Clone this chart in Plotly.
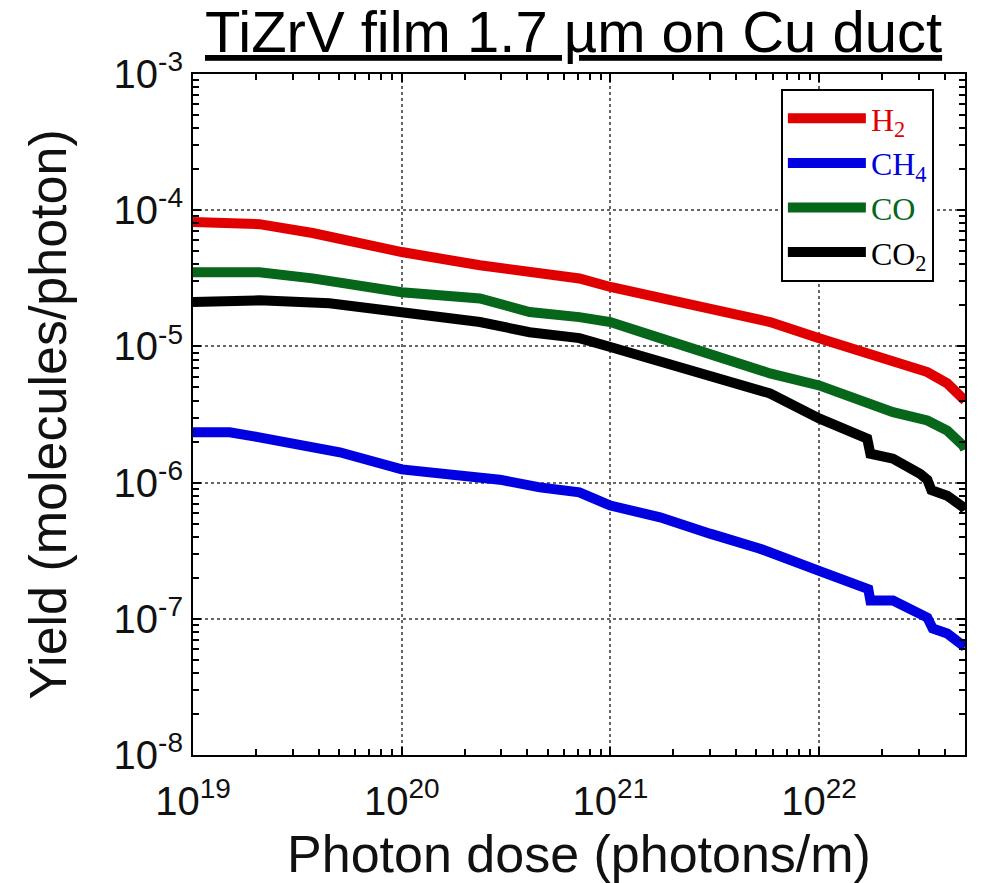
import plotly.graph_objects as go
import math

# ---- data ----
h2_dose = [1.0e19, 2.08e19, 3.74e19, 7.86e19, 1.0e20, 2.37e20, 4.1e20, 7.1e20, 1.0e21, 1.73e21,
           3.0e21, 5.82e21, 1.0e22, 1.57e22, 2.26e22, 3.30e22, 4.11e22, 4.9e22, 5.0e22]
h2_yield = [8.2e-5, 7.9e-5, 6.8e-5, 5.22e-5, 4.93e-5, 3.94e-5, 3.52e-5, 3.15e-5, 2.73e-5, 2.30e-5,
            1.90e-5, 1.51e-5, 1.15e-5, 9.35e-6, 7.67e-6, 6.48e-6, 5.35e-6, 4.24e-6, 4.0e-6]

ch4_dose = [1.0e19, 1.5e19, 2.08e19, 3.24e19, 5.05e19, 1.0e20, 1.7e20, 2.95e20, 4.59e20, 7.1e20,
            1.0e21, 1.73e21, 3.0e21, 5.21e21, 1.0e22, 1.57e22, 1.72e22, 1.76e22, 2.26e22, 3.3e22,
            3.5e22, 4.11e22, 4.73e22, 5.0e22]
ch4_yield = [2.34e-6, 2.34e-6, 2.15e-6, 1.87e-6, 1.67e-6, 1.25e-6, 1.16e-6, 1.05e-6, 9.23e-7, 8.49e-7,
             6.78e-7, 5.56e-7, 4.22e-7, 3.27e-7, 2.25e-7, 1.75e-7, 1.65e-7, 1.36e-7, 1.36e-7, 1.02e-7,
             8.5e-8, 7.8e-8, 6.7e-8, 6.2e-8]

co_dose = [1.0e19, 2.08e19, 3.74e19, 7.86e19, 1.0e20, 2.37e20, 4.1e20, 7.1e20, 1.0e21, 1.73e21,
           3.0e21, 5.82e21, 1.0e22, 1.57e22, 2.26e22, 3.30e22, 4.11e22, 4.9e22, 5.0e22]
co_yield = [3.5e-5, 3.5e-5, 3.16e-5, 2.67e-5, 2.5e-5, 2.25e-5, 1.79e-5, 1.64e-5, 1.51e-5, 1.15e-5,
            8.9e-6, 6.33e-6, 5.17e-6, 4.01e-6, 3.29e-6, 2.86e-6, 2.41e-6, 1.87e-6, 1.75e-6]

co2_dose = [1.0e19, 2.08e19, 4.5e19, 7.86e19, 1.0e20, 2.37e20, 4.1e20, 7.1e20, 1.0e21, 1.73e21,
            3.0e21, 5.82e21, 1.0e22, 1.57e22, 1.70e22, 1.76e22, 2.26e22, 3.05e22, 3.3e22, 3.45e22,
            4.11e22, 4.9e22, 5.0e22]
co2_yield = [2.12e-5, 2.18e-5, 2.07e-5, 1.84e-5, 1.75e-5, 1.51e-5, 1.27e-5, 1.15e-5, 9.9e-6, 7.67e-6,
             6.12e-6, 4.51e-6, 2.96e-6, 2.15e-6, 2.1e-6, 1.63e-6, 1.50e-6, 1.16e-6, 1.05e-6, 8.8e-7,
             8.0e-7, 6.6e-7, 6.3e-7]

series_names = ["H<sub>2</sub>", "CH<sub>4</sub>", "CO", "CO<sub>2</sub>"]
series_colors = ["#e00000", "#0000e0", "#06661a", "#000000"]

x_tickvals = [1e19, 1e20, 1e21, 1e22]
x_ticktext = ["10<sup>19</sup>", "10<sup>20</sup>", "10<sup>21</sup>", "10<sup>22</sup>"]
y_tickvals = [1e-8, 1e-7, 1e-6, 1e-5, 1e-4, 1e-3]
y_ticktext = ["10<sup>-8</sup>", "10<sup>-7</sup>", "10<sup>-6</sup>", "10<sup>-5</sup>",
              "10<sup>-4</sup>", "10<sup>-3</sup>"]
x_decades = [19, 20, 21, 22]
y_decades = [-8, -7, -6, -5, -4]
minor_digits = [2, 3, 4, 5, 6, 7, 8, 9]

x_max = 5e22
x_minor = [d * 10.0 ** e for e in x_decades for d in minor_digits if d * 10.0 ** e <= x_max]
y_minor = [d * 10.0 ** e for e in y_decades for d in minor_digits]

title_text = "TiZrV film 1.7 µm on Cu duct"
x_title = "Photon dose (photons/m)"
y_title = "Yield (molecules/photon)"

fig = go.Figure()
for (xs, ys), name, col in zip([(h2_dose, h2_yield), (ch4_dose, ch4_yield), (co_dose, co_yield),
                                (co2_dose, co2_yield)], series_names, series_colors):
    fig.add_trace(go.Scatter(
        x=xs, y=ys, mode="lines", line=dict(color=col, width=10),
        name=f'<span style="color:{col}">{name}</span>'))

SANS = "Liberation Sans, Arial, sans-serif"
axis_common = dict(
    type="log", showline=True, linecolor="black", linewidth=2, mirror="allticks",
    ticks="inside", ticklen=8, tickwidth=2, tickcolor="black",
    showgrid=True, gridcolor="#666666", gridwidth=1.5, griddash="dot",
    tickfont=dict(family=SANS, size=40, color="#111111"),
    zeroline=False, automargin=False,
)

fig.update_xaxes(**axis_common, range=[19, math.log10(x_max)], tickmode="array",
                 tickvals=x_tickvals, ticktext=x_ticktext, ticklabelstandoff=10,
                 minor=dict(ticks="inside", ticklen=6, tickwidth=2, tickcolor="black",
                            showgrid=False, tickmode="array", tickvals=x_minor),
                 title=dict(text=x_title, font=dict(family=SANS, size=52, color="#111111"), standoff=20))
fig.update_yaxes(**axis_common, range=[-8, -3], tickmode="array",
                 tickvals=y_tickvals, ticktext=y_ticktext,
                 minor=dict(ticks="inside", ticklen=6, tickwidth=2, tickcolor="black",
                            showgrid=False, tickmode="array", tickvals=y_minor),
                 title=dict(text=y_title, font=dict(family=SANS, size=52, color="#111111"), standoff=30))

fig.add_annotation(
    text=f"<u>{title_text}</u>", xref="paper", yref="paper", x=0.493, y=1.062,
    xanchor="center", yanchor="middle", showarrow=False, borderpad=0,
    font=dict(family=SANS, size=58, color="#000000"))

fig.update_layout(
    width=982, height=883, margin=dict(l=193, r=17, t=74, b=128),
    paper_bgcolor="white", plot_bgcolor="white",
    showlegend=True,
    legend=dict(x=0.7615, y=0.978, xanchor="left", yanchor="top",
                bordercolor="black", borderwidth=2, bgcolor="white",
                font=dict(family="Liberation Serif, Times New Roman, serif", size=32),
                itemwidth=78, tracegroupgap=0),
)

fig.write_html("out.html")
